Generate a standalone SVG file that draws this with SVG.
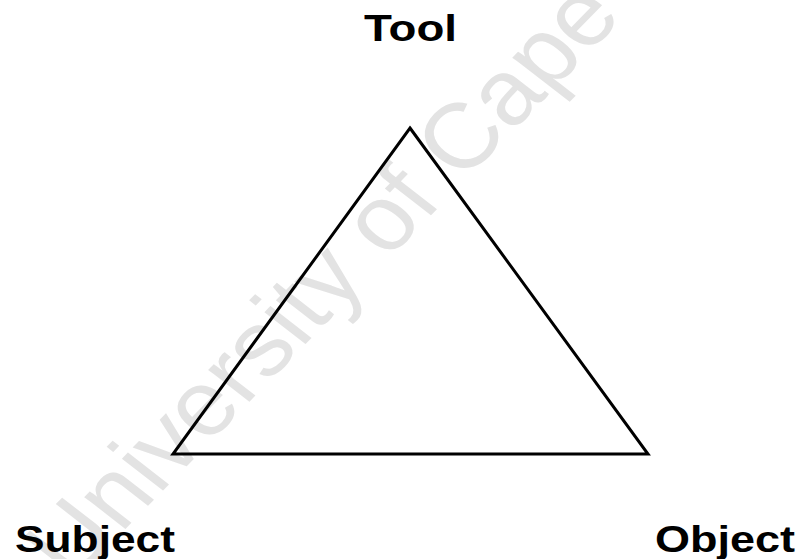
<svg xmlns="http://www.w3.org/2000/svg" width="798" height="559" viewBox="0 0 798 559">
  <style>
    .label { font-family: "Liberation Sans", Arial, sans-serif; font-weight: bold; font-size: 36px; fill: #000; }
    .edge { fill: none; stroke: #000; stroke-width: 3; stroke-linejoin: miter; }
    .wm { font-family: "Liberation Sans", Arial, sans-serif; font-size: 92px; fill: #e3e3e3; }
  </style>
  <rect width="798" height="559" fill="#fff"/>
  <g id="watermark" transform="translate(72,584) scale(1.12,1) rotate(-49)">
    <text class="wm" x="0" y="0">University of Cape Town</text>
  </g>
  <g id="connectors">
    <path class="edge" d="M410,128 L648,454 L173,454 Z"/>
  </g>
  <g id="tool">
    <text class="label" x="364" y="41" textLength="93" lengthAdjust="spacingAndGlyphs">Tool</text>
  </g>
  <g id="subject">
    <text class="label" x="15" y="552" textLength="160" lengthAdjust="spacingAndGlyphs">Subject</text>
  </g>
  <g id="object">
    <text class="label" x="655" y="552" textLength="140" lengthAdjust="spacingAndGlyphs">Object</text>
  </g>
</svg>
